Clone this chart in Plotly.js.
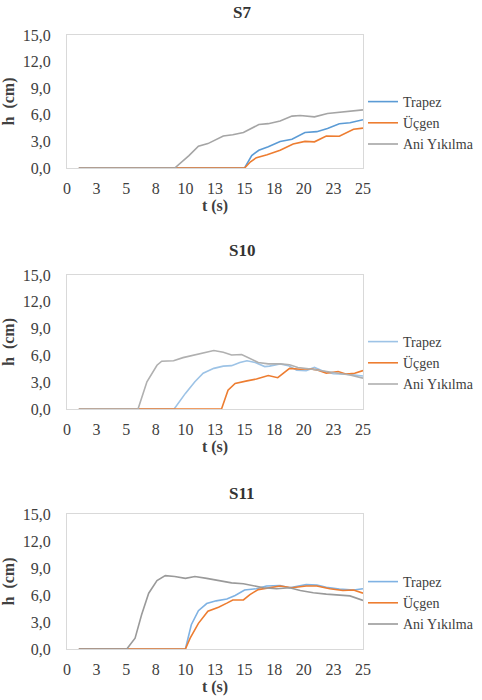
<!DOCTYPE html>
<html>
<head>
<meta charset="utf-8">
<script src="https://cdn.plot.ly/plotly-3.0.1.min.js"></script>
<style>html,body{margin:0;padding:0;background:#fff;}#chart{width:482px;height:700px;}</style>
</head>
<body>
<div id="chart"></div>
<script>
// ---- tick labels ----
const xTickVals = [0, 2.5, 5, 7.5, 10, 12.5, 15, 17.5, 20, 22.5, 25];
const xTickText = ["0", "3", "5", "8", "10", "13", "15", "18", "20", "23", "25"];
const yTickVals = [0, 3, 6, 9, 12, 15];
const seriesNames = ["Trapez", "Üçgen", "Ani Yıkılma"];
const chartTitles = ["S7", "S10", "S11"];

// ---- S7 ----
const s7TrapezT = [1, 15, 15.6, 16.2, 17, 18, 19, 20.1, 21.1, 22, 23, 23.9, 25];
const s7TrapezH = [0, 0, 1.4, 2.0, 2.4, 3.0, 3.25, 4.0, 4.1, 4.45, 5.0, 5.1, 5.45];
const s7UcgenT = [1, 15, 15.5, 16, 16.9, 18, 19.1, 20.1, 20.9, 21.9, 23, 24.2, 25];
const s7UcgenH = [0, 0, 0.7, 1.17, 1.5, 2.0, 2.7, 3.0, 2.95, 3.6, 3.58, 4.37, 4.5];
const s7AniT = [1, 9.1, 10.3, 11.1, 11.9, 13.2, 14, 14.9, 16.2, 17, 18, 19, 19.7, 20.9, 22, 23.3, 25];
const s7AniH = [0, 0, 1.4, 2.45, 2.75, 3.6, 3.75, 4.0, 4.9, 5.0, 5.3, 5.85, 5.92, 5.77, 6.15, 6.35, 6.55];

// ---- S10 ----
const s10TrapezT = [1, 9.05, 10, 10.8, 11.5, 12.4, 13.2, 13.9, 14.6, 15.2, 15.9, 16.7, 17.1, 18, 18.7, 19.4, 20.2, 20.9, 21.6, 22.5, 23.6, 25];
const s10TrapezH = [0, 0, 1.75, 3.05, 4.0, 4.55, 4.8, 4.85, 5.2, 5.4, 5.2, 4.75, 4.8, 5.05, 4.85, 4.35, 4.3, 4.65, 4.25, 3.95, 3.9, 3.7];
const s10UcgenT = [1, 13.05, 13.6, 14.2, 15.2, 16, 17, 17.8, 18.8, 19.7, 20.5, 21.2, 21.9, 22.9, 23.6, 24.3, 25];
const s10UcgenH = [0, 0, 2.1, 2.85, 3.15, 3.35, 3.75, 3.5, 4.55, 4.45, 4.5, 4.35, 4.0, 4.2, 3.9, 4.0, 4.3];
const s10AniT = [1, 6.0, 6.75, 7.6, 8.0, 9.0, 9.8, 11.0, 11.8, 12.4, 13.2, 13.9, 14.75, 15.45, 16.15, 17, 18, 18.8, 19.5, 20.4, 21.2, 21.9, 22.75, 23.9, 25];
const s10AniH = [0, 0, 3.05, 4.9, 5.35, 5.4, 5.75, 6.1, 6.4, 6.55, 6.35, 6.05, 6.1, 5.65, 5.2, 5.05, 5.05, 4.95, 4.65, 4.5, 4.35, 4.25, 4.05, 3.8, 3.45];

// ---- S11 ----
const s11TrapezT = [1, 10, 10.5, 11.1, 11.8, 12.6, 13.5, 14.2, 15, 16, 16.85, 18, 18.8, 20.2, 21.1, 21.9, 23, 24.2, 25];
const s11TrapezH = [0, 0, 2.7, 4.25, 5.05, 5.35, 5.55, 5.95, 6.55, 6.7, 7.0, 7.05, 6.8, 7.15, 7.1, 6.85, 6.65, 6.55, 6.7];
const s11UcgenT = [1, 10, 10.4, 11.1, 11.9, 12.8, 13.5, 14, 14.9, 15.45, 16.15, 17, 18, 19, 20.2, 21.1, 22.2, 23.3, 24.2, 25];
const s11UcgenH = [0, 0, 1.2, 2.85, 4.2, 4.65, 5.1, 5.45, 5.45, 6.05, 6.6, 6.8, 7.0, 6.8, 7.0, 7.0, 6.7, 6.5, 6.55, 6.2];
const s11AniT = [1, 5.05, 5.75, 6.3, 6.9, 7.6, 8.3, 9.1, 10, 10.8, 11.8, 12.9, 13.9, 14.9, 15.7, 16.6, 17.7, 18.8, 19.7, 20.8, 21.9, 23, 23.9, 25];
const s11AniH = [0, 0, 1.2, 3.8, 6.2, 7.6, 8.15, 8.05, 7.85, 8.05, 7.85, 7.55, 7.35, 7.25, 7.0, 6.8, 6.7, 6.8, 6.5, 6.25, 6.1, 5.95, 5.9, 5.4];

const FONT = '"Liberation Serif", "Times New Roman", serif';
const TXT = "#404040";

const panels = [
  {series: [[s7TrapezT, s7TrapezH], [s7UcgenT, s7UcgenH], [s7AniT, s7AniH]], colors: ["#5b9bd5", "#ed7d31", "#a5a5a5"]},
  {series: [[s10TrapezT, s10TrapezH], [s10UcgenT, s10UcgenH], [s10AniT, s10AniH]], colors: ["#9dc3e6", "#ed7d31", "#b0b0b0"]},
  {series: [[s11TrapezT, s11TrapezH], [s11UcgenT, s11UcgenH], [s11AniT, s11AniH]], colors: ["#7fb2e3", "#ed7d31", "#9a9a9a"]}
];

// layout geometry (pixels): plot areas
const W = 482, H = 700;
const mL = 67, mR = 119, mT = 35, mB = 51;
const plotW = W - mL - mR;
const plotH = H - mT - mB;
const panelPix = [[35, 168], [275, 409], [514, 649]]; // top, bottom
const toPaperY = py => (H - mB - py) / plotH;
const toPaperX = px => (px - mL) / plotW;

const traces = [];
const layout = {
  width: W, height: H,
  margin: {l: mL, r: mR, t: mT, b: mB},
  paper_bgcolor: "#fff", plot_bgcolor: "#fff",
  separators: ", ",
  showlegend: true,
  font: {family: FONT, color: TXT, size: 15},
  annotations: []
};

const legendTops = [86, 326, 566];
const titleY = [13, 250, 493];

panels.forEach((p, i) => {
  const ax = i === 0 ? "" : String(i + 1);
  const lg = i === 0 ? "legend" : "legend" + (i + 1);
  p.series.forEach((s, k) => {
    traces.push({
      type: "scatter", mode: "lines",
      x: s[0], y: s[1],
      name: seriesNames[k],
      xaxis: "x" + ax, yaxis: "y" + ax,
      legend: lg,
      line: {color: p.colors[k], width: 1.6}
    });
  });
  const [top, bot] = panelPix[i];
  layout["xaxis" + ax] = {
    domain: [0, 1], anchor: "y" + ax,
    range: [0, 25], tickmode: "array", tickvals: xTickVals, ticktext: xTickText,
    showgrid: false, zeroline: false, layer: "below traces",
    showline: true, mirror: true, linecolor: "#d9d9d9", linewidth: 1,
    ticks: "outside", ticklen: 6, tickcolor: "rgba(0,0,0,0)",
    tickfont: {family: FONT, size: 16, color: TXT},
    title: {text: "<b>t (s)</b>", font: {family: FONT, size: 16, color: TXT}, standoff: 2},
    fixedrange: true
  };
  layout["yaxis" + ax] = {
    domain: [toPaperY(bot), Math.min(1, toPaperY(top))], anchor: "x" + ax,
    range: [0, 15], tickmode: "array", tickvals: yTickVals, tickformat: ".1f",
    showgrid: false, zeroline: false, layer: "below traces",
    showline: true, mirror: true, linecolor: "#d9d9d9", linewidth: 1,
    ticks: "outside", ticklen: 12, tickcolor: "rgba(0,0,0,0)",
    tickfont: {family: FONT, size: 16, color: TXT},
    title: {text: "<b>h  (cm)</b>", font: {family: FONT, size: 16, color: TXT}, standoff: 5},
    fixedrange: true
  };
  layout[lg] = {
    x: 363 / W, xanchor: "left", xref: "container",
    y: toPaperY(legendTops[i]), yanchor: "top", yref: "paper",
    bgcolor: "rgba(0,0,0,0)", borderwidth: 0,
    font: {family: FONT, size: 14, color: TXT},
    tracegroupgap: 0
  };
  layout.annotations.push({
    text: "<b>" + chartTitles[i] + "</b>",
    xref: "paper", yref: "paper", x: toPaperX(242), y: toPaperY(titleY[i]),
    xanchor: "center", yanchor: "middle", showarrow: false,
    font: {family: FONT, size: 17, color: "#333"}
  });
});

Plotly.newPlot("chart", traces, layout, {displayModeBar: false, staticPlot: true});
</script>
</body>
</html>
